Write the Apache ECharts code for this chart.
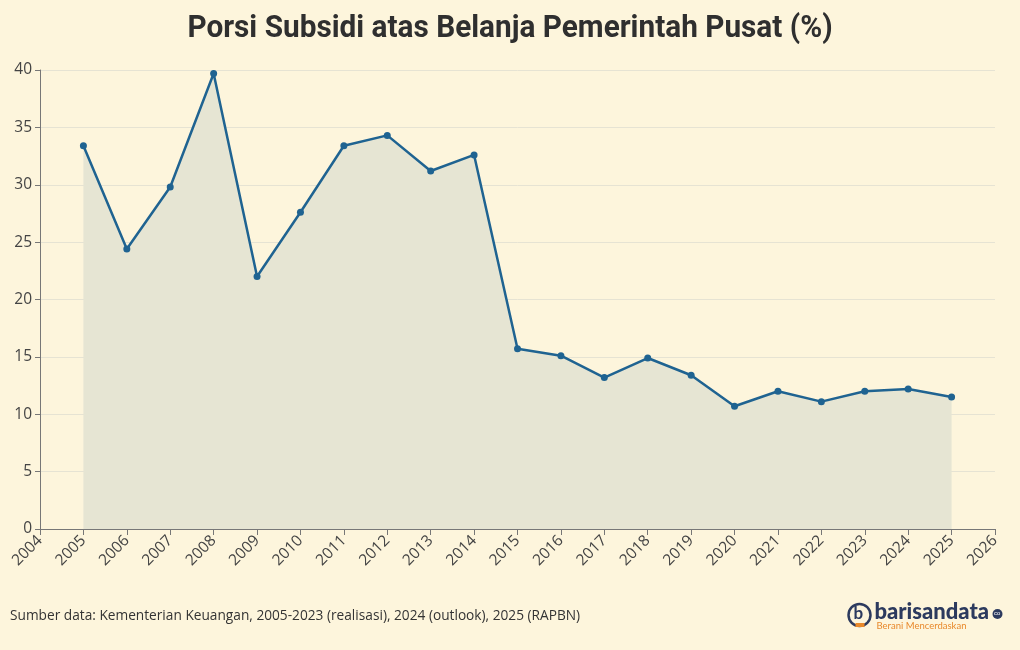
<!DOCTYPE html>
<html>
<head>
<meta charset="utf-8">
<script src="https://cdn.jsdelivr.net/npm/echarts@6/dist/echarts.min.js"></script>
<style>
html,body{margin:0;padding:0;background:#fdf5dc;}
#chart{width:1020px;height:650px;}
</style>
</head>
<body>
<div id="chart"></div>
<script>
const years = [2005,2006,2007,2008,2009,2010,2011,2012,2013,2014,2015,2016,2017,2018,2019,2020,2021,2022,2023,2024,2025];
const subsidyShare = [33.4,24.4,29.8,39.7,22.0,27.6,33.4,34.3,31.2,32.6,15.7,15.1,13.2,14.9,13.4,10.7,12.0,11.1,12.0,12.2,11.5];
const titleText = 'Porsi Subsidi atas Belanja Pemerintah Pusat (%)';
const sourceText = 'Sumber data: Kementerian Keuangan, 2005-2023 (realisasi), 2024 (outlook), 2025 (RAPBN)';

const chart = echarts.init(document.getElementById('chart'));
const font = '"Source Sans Pro","Open Sans","Noto Sans",sans-serif';
chart.setOption({
  backgroundColor: '#fdf5dc',
  animation: false,
  grid: {left: 40, right: 25, top: 70, bottom: 121, containLabel: false},
  xAxis: {
    type: 'value',
    min: 2004, max: 2026, interval: 1,
    axisLine: {show: true, lineStyle: {color: '#777', width: 1}},
    axisTick: {show: true, length: 6, lineStyle: {color: '#777'}},
    splitLine: {show: false},
    axisLabel: {rotate: 45, color: '#444', fontSize: 15.5, fontFamily: font, margin: 9, formatter: v => String(v)}
  },
  yAxis: {
    type: 'value',
    min: 0, max: 40, interval: 5,
    axisLine: {show: true, lineStyle: {color: '#777', width: 1}},
    axisTick: {show: true, length: 5, lineStyle: {color: '#777'}},
    splitLine: {show: true, lineStyle: {color: '#e6e3d3', width: 1}},
    axisLabel: {color: '#444', fontSize: 15.5, fontFamily: font, margin: 8}
  },
  series: [{
    type: 'line',
    data: years.map((y, i) => [y, subsidyShare[i]]),
    symbol: 'circle',
    symbolSize: 7,
    lineStyle: {color: '#1f6391', width: 2.5},
    itemStyle: {color: '#1f6391'},
    areaStyle: {color: '#e6e5d3', opacity: 1},
    z: 3
  }],
  graphic: [
    {type: 'text', x: 510, y: 29, scaleX: 0.96, style: {text: titleText, align: 'center', verticalAlign: 'middle', fontSize: 31, fontWeight: 'bold', fontFamily: 'Roboto,"Noto Sans",sans-serif', fill: '#2f2f2f'}},
    {type: 'text', left: 10, top: 609, style: {text: sourceText, fontSize: 13.7, fontFamily: font, fill: '#333'}},
    {type: 'group', left: 846, top: 601, children: [
      {type: 'circle', shape: {cx: 12, cy: 13, r: 11}, style: {fill: 'none', stroke: '#2c3a5e', lineWidth: 2.5}},
      {type: 'text', x: 6, y: 3, style: {text: 'b', fontSize: 17, fontWeight: 'bold', fontFamily: 'Lato,sans-serif', fill: '#2c3a5e'}},
      {type: 'rect', shape: {x: 8, y: 21, width: 9, height: 4}, style: {fill: '#e8892c'}},
      {type: 'text', x: 27, y: -1, style: {text: 'barisandata', fontSize: 22, fontWeight: 900, fontFamily: 'Lato,"Noto Sans",sans-serif', fill: '#2c3a5e'}},
      {type: 'circle', shape: {cx: 150, cy: 12, r: 5}, style: {fill: '#2c3a5e'}},
      {type: 'text', x: 146.5, y: 8.5, style: {text: 'co', fontSize: 6, fontFamily: 'sans-serif', fill: '#fff'}},
      {type: 'text', x: 29, y: 19, style: {text: 'Berani Mencerdaskan', fontSize: 9.5, fontFamily: 'Lato,sans-serif', fill: '#e8892c'}}
    ]}
  ]
});
</script>
</body>
</html>
